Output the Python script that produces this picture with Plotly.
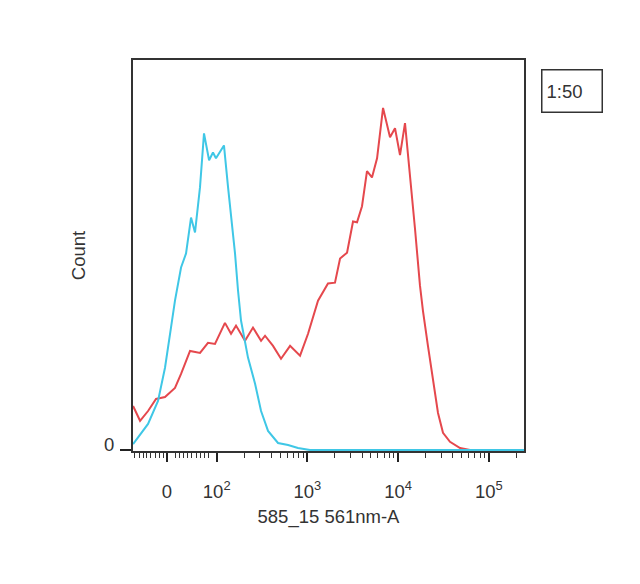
import math
import plotly.graph_objects as go

# x values are in display units of the biexponential axis (10^n sits at n)
blue_x = [1.078, 1.155, 1.243, 1.353, 1.430, 1.496, 1.540, 1.607, 1.662, 1.717,
          1.761, 1.816, 1.860, 1.916, 1.959, 1.992, 2.080, 2.125, 2.202, 2.235,
          2.268, 2.345, 2.423, 2.489, 2.566, 2.676, 2.787, 2.896, 3.029, 5.388]
blue_y = [1.5, 3.9, 6.7, 12.6, 21.1, 31.4, 38.3, 46.8, 50.4, 59.6,
          55.8, 67.4, 81.2, 74.3, 76.3, 74.8, 78.1, 67.4, 50.4, 40.9,
          33.2, 23.7, 17.0, 10.0, 4.9, 1.8, 1.3, 0.5, 0, 0]

red_x = [1.078, 1.155, 1.243, 1.331, 1.430, 1.540, 1.607, 1.706, 1.816, 1.904,
         1.981, 2.091, 2.158, 2.213, 2.312, 2.400, 2.489, 2.533, 2.621, 2.709,
         2.809, 2.919, 3.007, 3.117, 3.227, 3.304, 3.360, 3.437, 3.503, 3.547,
         3.602, 3.657, 3.712, 3.768, 3.834, 3.911, 3.966, 4.021, 4.076, 4.131,
         4.186, 4.241, 4.274, 4.329, 4.385, 4.440, 4.495, 4.572, 4.683, 4.793,
         5.388]
red_y = [11.3, 7.5, 10.0, 13.1, 13.6, 15.9, 19.5, 25.4, 24.9, 27.5,
         27.2, 32.6, 29.8, 31.9, 28.0, 31.4, 28.0, 29.3, 26.7, 23.4,
         26.7, 24.2, 29.8, 38.3, 42.7, 42.9, 49.1, 50.6, 58.6, 58.4,
         62.5, 71.5, 69.9, 74.8, 87.7, 80.2, 82.5, 75.6, 83.8, 71.2,
         56.8, 42.2, 35.7, 26.7, 18.3, 9.5, 4.4, 2.1, 0.5, 0,
         0]

major_tickvals = [1.452, 2, 3, 4, 5]
major_ticktext = ["0", "10<sup>2</sup>", "10<sup>3</sup>", "10<sup>4</sup>", "10<sup>5</sup>"]
linear_region_ticks = [1.099, 1.147, 1.191, 1.228, 1.272, 1.320, 1.367, 1.411,
                       1.551, 1.595, 1.639, 1.676, 1.724, 1.772, 1.816, 1.860, 1.908]
minor_ticks = linear_region_ticks + [d + math.log10(k) for d in (2, 3, 4) for k in range(2, 10)] + [5 + math.log10(2)]

legend_label = "1:50"
x_title = "585_15 561nm-A"
y_title = "Count"

FONT = "Liberation Sans, Arial, sans-serif"
TXT = "#333333"
FS = 18.5

fig = go.Figure()
fig.add_trace(go.Scatter(x=red_x, y=red_y, mode="lines",
                         line=dict(color="#E5484D", width=2), showlegend=False))
fig.add_trace(go.Scatter(x=blue_x, y=blue_y, mode="lines",
                         line=dict(color="#3FC7E6", width=2), showlegend=False))

fig.update_layout(
    width=632, height=576,
    margin=dict(l=125, r=116, t=52, b=133),
    paper_bgcolor="white", plot_bgcolor="white",
    font=dict(family=FONT, size=FS, color=TXT),
    xaxis=dict(
        range=[1.0772, 5.388], showgrid=False, zeroline=False,
        showline=True, linecolor="#333333", linewidth=2, mirror=True,
        ticks="outside", ticklen=9, tickwidth=1.5, tickcolor="#222222",
        tickmode="array", tickvals=major_tickvals, ticktext=major_ticktext,
        tickfont=dict(size=FS, color=TXT), ticklabelstandoff=14,
        minor=dict(tickmode="array", tickvals=minor_ticks, ticks="outside",
                   ticklen=5, tickwidth=1.2, tickcolor="#333333"),
        title=dict(text=x_title, font=dict(size=FS, color=TXT), standoff=9),
    ),
    yaxis=dict(
        range=[-0.25, 100], showgrid=False, zeroline=False,
        showline=True, linecolor="#333333", linewidth=2, mirror=True,
        ticks="outside", ticklen=11, tickwidth=1.5, tickcolor="#222222",
        tickmode="array", tickvals=[0], ticktext=["0"],
        tickfont=dict(size=FS, color=TXT), ticklabelstandoff=2, ticklabelshift=-6,
        title=dict(text=y_title, font=dict(size=FS, color=TXT), standoff=14),
    ),
    annotations=[dict(
        text=legend_label, xref="paper", yref="paper",
        x=1.0435, y=0.977, xanchor="left", yanchor="top",
        showarrow=False, align="left", valign="middle",
        width=51, height=33, borderpad=4,
        bordercolor="#333333", borderwidth=1.5,
        font=dict(size=FS, color=TXT),
    )],
)

fig.write_html("out.html")
